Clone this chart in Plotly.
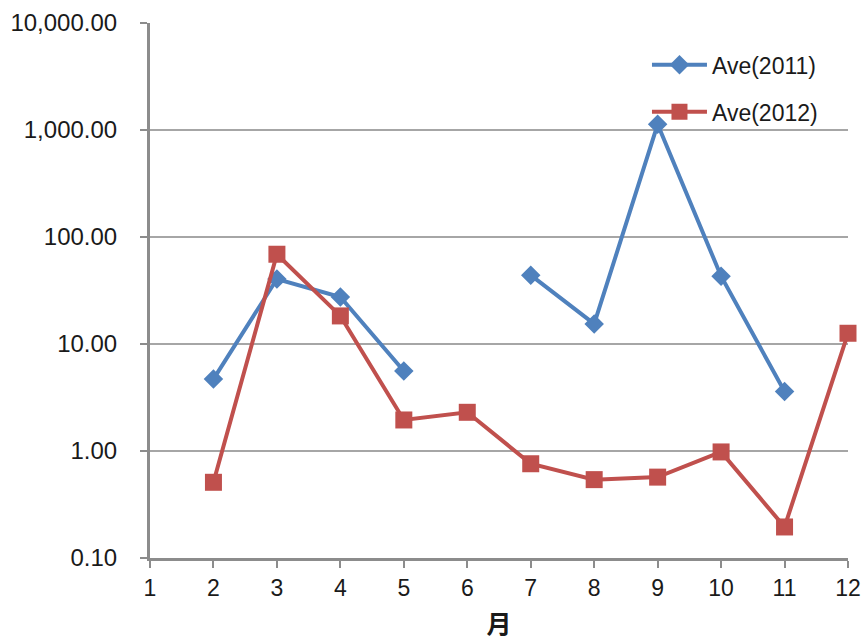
import plotly.graph_objects as go

months = [1, 2, 3, 4, 5, 6, 7, 8, 9, 10, 11, 12]
ave_2011 = [None, 4.7, 40.5, 27.5, 5.6, None, 44, 15.4, 1130, 43, 3.6, None]
ave_2012 = [None, 0.51, 69, 18.3, 1.95, 2.3, 0.76, 0.54, 0.57, 0.98, 0.195, 12.6]
y_ticks = [0.1, 1, 10, 100, 1000, 10000]
y_tick_labels = ["0.10", "1.00", "10.00", "100.00", "1,000.00", "10,000.00"]
x_title = "月"

BLUE = "#4F81BD"
RED = "#C0504D"
FONT = "Liberation Sans, Arial, sans-serif"

fig = go.Figure()
fig.add_trace(go.Scatter(
    x=months, y=ave_2011, name="Ave(2011)", mode="lines+markers",
    line=dict(color=BLUE, width=4),
    marker=dict(symbol="diamond", size=15, color=BLUE),
    connectgaps=False, cliponaxis=False, legendgroup="a",
))
fig.add_trace(go.Scatter(
    x=months, y=ave_2012, name="Ave(2012)", mode="lines+markers",
    line=dict(color=RED, width=4),
    marker=dict(symbol="square", size=17, color=RED),
    connectgaps=False, cliponaxis=False, legendgroup="b",
))

fig.update_layout(
    width=865, height=640,
    margin=dict(l=150, r=17, t=23, b=82),
    paper_bgcolor="white", plot_bgcolor="white",
    font=dict(family=FONT, size=22, color="#1a1a1a"),
    showlegend=True,
    legend=dict(
        x=0.712, y=0.962, xanchor="left", yanchor="top",
        bgcolor="rgba(255,255,255,0)",
        font=dict(size=23, family=FONT, color="#1a1a1a"),
        tracegroupgap=14, itemwidth=55,
    ),
)
fig.update_xaxes(
    range=[1, 12], tickvals=months, ticktext=[str(m) for m in months],
    showgrid=False, zeroline=False, automargin=False,
    showline=True, linecolor="#8c8c8c", linewidth=3,
    ticks="outside", ticklen=7, tickwidth=2, tickcolor="#8c8c8c",
    tickfont=dict(size=23, family=FONT, color="#1a1a1a"),
    title=dict(text="<b>" + x_title + "</b>", font=dict(size=25, family="Noto Sans CJK JP", color="#1a1a1a"), standoff=17),
)
fig.update_yaxes(
    type="log", range=[-1, 4], tickvals=y_ticks, ticktext=y_tick_labels,
    showgrid=True, gridcolor="#a6a6a6", gridwidth=2,
    zeroline=False, automargin=False,
    showline=True, linecolor="#8c8c8c", linewidth=3,
    ticks="outside", ticklen=7, tickwidth=2, tickcolor="#8c8c8c",
    ticklabelstandoff=18,
    tickfont=dict(size=24, family=FONT, color="#1a1a1a"),
)

fig.write_html(
    "out.html",
    config={"displayModeBar": False},
    post_script="document.body.style.margin='0';document.body.style.overflow='hidden';",
)
